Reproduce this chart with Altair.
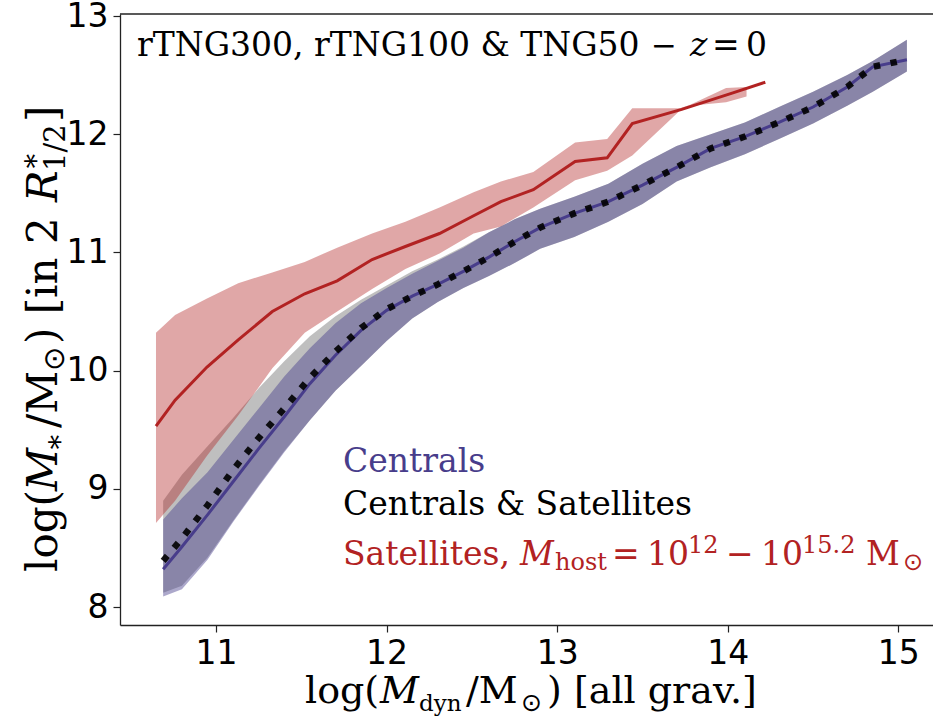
import altair as alt
import pandas as pd

# ---- Centrals and all galaxies (shared mass bins) ----
mdyn_c = [10.69, 10.8, 10.95, 11.1, 11.25, 11.4, 11.55, 11.7, 11.85, 12.0,
          12.15, 12.3, 12.45, 12.6, 12.75, 12.9, 13.1, 13.3, 13.5, 13.7,
          13.9, 14.1, 14.3, 14.5, 14.7, 14.85, 15.05]
cen_med = [8.32, 8.51, 8.78, 9.06, 9.34, 9.61, 9.89, 10.13, 10.34, 10.51,
           10.63, 10.73, 10.84, 10.96, 11.09, 11.21, 11.33, 11.43, 11.57, 11.72,
           11.88, 11.98, 12.10, 12.23, 12.40, 12.57, 12.63]
cen_lo = [8.09, 8.15, 8.40, 8.72, 9.02, 9.31, 9.58, 9.83, 10.04, 10.25,
          10.44, 10.58, 10.70, 10.80, 10.91, 11.03, 11.13, 11.26, 11.41, 11.60,
          11.72, 11.83, 11.96, 12.09, 12.24, 12.36, 12.53]
cen_hi = [8.74, 8.92, 9.14, 9.41, 9.68, 9.95, 10.19, 10.40, 10.57, 10.70,
          10.82, 10.93, 11.04, 11.17, 11.28, 11.37, 11.47, 11.58, 11.75, 11.90,
          12.00, 12.10, 12.23, 12.36, 12.50, 12.62, 12.80]
all_med = [8.39, 8.58, 8.86, 9.16, 9.43, 9.68, 9.94, 10.16, 10.36, 10.52,
           10.63, 10.73, 10.84, 10.96, 11.09, 11.21, 11.33, 11.43, 11.57, 11.72,
           11.88, 11.98, 12.10, 12.23, 12.40, 12.57, 12.63]
all_lo = [8.12, 8.18, 8.42, 8.73, 9.03, 9.32, 9.58, 9.83, 10.04, 10.25,
          10.44, 10.58, 10.70, 10.80, 10.91, 11.03, 11.13, 11.26, 11.41, 11.60,
          11.72, 11.83, 11.96, 12.09, 12.24, 12.36, 12.53]
all_hi = [8.90, 9.12, 9.36, 9.60, 9.85, 10.08, 10.29, 10.46, 10.60, 10.72,
          10.84, 10.94, 11.05, 11.17, 11.28, 11.37, 11.47, 11.58, 11.75, 11.90,
          12.00, 12.10, 12.23, 12.36, 12.50, 12.62, 12.80]

# ---- Satellites ----
sat_x = [10.648, 10.76, 10.947, 11.13, 11.33, 11.52, 11.71, 11.915, 12.11, 12.31,
         12.51, 12.67, 12.86, 13.105, 13.293, 13.44, 13.73, 14.03, 14.22]
sat_med = [9.53, 9.75, 10.03, 10.26, 10.50, 10.65, 10.76, 10.94, 11.05, 11.16,
           11.31, 11.43, 11.53, 11.77, 11.80, 12.09, 12.21, 12.35, 12.44]
sat_band_x = [10.648, 10.76, 10.947, 11.13, 11.33, 11.52, 11.71, 11.915, 12.11, 12.31,
              12.51, 12.67, 12.86, 13.105, 13.293, 13.44, 13.72, 13.78, 13.99, 14.11]
sat_lo = [8.71, 8.90, 9.28, 9.62, 10.02, 10.32, 10.50, 10.69, 10.86, 10.99,
          11.16, 11.22, 11.38, 11.61, 11.69, 11.82, 12.20, 12.24, 12.27, 12.32]
sat_hi = [10.32, 10.47, 10.61, 10.74, 10.83, 10.92, 11.04, 11.16, 11.26, 11.38,
          11.51, 11.60, 11.68, 11.93, 11.96, 12.22, 12.22, 12.25, 12.39, 12.40]

x_ticks = [11, 12, 13, 14, 15]
y_ticks = [8, 9, 10, 11, 12, 13]

SERIF = "DejaVu Serif"
SANS = "DejaVu Sans"
PURPLE = "#483D8B"
RED = "#B22222"

W, H = 813, 611
LEFT, TOP = 120, 14

cen = pd.DataFrame({"x": mdyn_c, "med": cen_med, "lo": cen_lo, "hi": cen_hi,
                    "amed": all_med, "alo": all_lo, "ahi": all_hi})
sat_line = pd.DataFrame({"x": sat_x, "med": sat_med})
sat_band = pd.DataFrame({"x": sat_band_x, "lo": sat_lo, "hi": sat_hi})

xs = alt.Scale(domain=[10.437, 15.203], nice=False, zero=False)
ys = alt.Scale(domain=[7.848, 13.017], nice=False, zero=False)

x_axis = alt.Axis(values=x_ticks, title=None, grid=False, format="d",
                  labelFont=SANS, labelFontSize=33, labelColor="black",
                  labelPadding=5, tickSize=7, tickWidth=1.2, tickColor="#222",
                  domainColor="#222", domainWidth=1.3)
y_axis = alt.Axis(values=y_ticks, title=None, grid=False, format="d",
                  labelFont=SANS, labelFontSize=33, labelColor="black",
                  labelPadding=5, tickSize=7, tickWidth=1.2, tickColor="#222",
                  domainColor="#222", domainWidth=1.3)

X = alt.X("x:Q", scale=xs, axis=x_axis)

gray_band = alt.Chart(cen).mark_area(color="gray", opacity=0.5).encode(
    x=X, y=alt.Y("alo:Q", scale=ys, axis=y_axis), y2="ahi:Q")
blue_band = alt.Chart(cen).mark_area(color=PURPLE, opacity=0.45).encode(
    x=X, y=alt.Y("lo:Q", scale=ys), y2="hi:Q")
red_band = alt.Chart(sat_band).mark_area(color=RED, opacity=0.4).encode(
    x=X, y=alt.Y("lo:Q", scale=ys), y2="hi:Q")
blue_line = alt.Chart(cen).mark_line(color=PURPLE, strokeWidth=3).encode(
    x=X, y=alt.Y("med:Q", scale=ys))
black_line = alt.Chart(cen).mark_line(color="black", opacity=0.9, strokeWidth=6.5,
                                      strokeDash=[6.5, 10.5], strokeCap="butt").encode(
    x=X, y=alt.Y("amed:Q", scale=ys))
red_line = alt.Chart(sat_line).mark_line(color=RED, strokeWidth=3).encode(
    x=X, y=alt.Y("med:Q", scale=ys))

one = pd.DataFrame({"k": [0]})

top_frame = alt.Chart(one).mark_rule(color="#222", strokeWidth=1.3).encode(
    x=alt.value(0), x2=alt.value(W), y=alt.value(0))


def label(s, x, y, size=33, color="black", italic=False, angle=0, font=SERIF):
    kw = dict(text=s, font=font, fontSize=size, color=color,
              align="left", baseline="alphabetic")
    if italic:
        kw["fontStyle"] = "italic"
    if angle:
        kw["angle"] = angle
    return alt.Chart(one).mark_text(**kw).encode(
        x=alt.value(x - LEFT), y=alt.value(y - TOP))


SUB = 24
YT = 42      # y-title font size
YS = 29      # y-title sub/superscript size
texts = [
    # header
    label("rTNG300, rTNG100 & TNG50", 137, 56, size=33),
    label("\u2212", 651, 56, size=31),
    label("z", 690, 56, size=33, italic=True),
    label("=", 712, 56, size=33),
    label("0", 746, 56, size=33),
    # legend entries
    label("Centrals", 343, 472, color=PURPLE),
    label("Centrals & Satellites", 343, 515),
    label("Satellites,", 343, 565, color=RED),
    label("M", 520, 565, color=RED, italic=True),
    label("host", 555, 570, size=SUB, color=RED),
    label("=", 612, 565, color=RED),
    label("10", 647, 565, color=RED),
    label("12", 688, 553, size=SUB, color=RED),
    label("\u2212", 726, 565, color=RED),
    label("10", 761, 565, color=RED),
    label("15.2", 802, 553, size=SUB, color=RED),
    label("M", 866, 565, color=RED),
    label("\u2299", 903, 570, size=SUB, color=RED, font=SANS),
    # x-axis title
    label("log(", 305, 703, size=38),
    label("M", 380, 703, size=38, italic=True),
    label("dyn", 419, 711, size=23),
    label("/M", 466, 703, size=38),
    label("\u2299", 521, 711, size=25, font=SANS),
    label(") [all grav.]", 547, 703, size=38),
    # y-axis title (rotated, reading upwards)
    label("log(", 57, 572, size=YT, angle=270),
    label("M", 57, 491, size=YT, italic=True, angle=270),
    label("\u2217", 64, 452, size=YS, angle=270),
    label("/M", 57, 428, size=YT, angle=270),
    label("\u2299", 64, 371, size=YS, angle=270, font=SANS),
    label(") [in 2 ", 57, 344, size=YT, angle=270),
    label("R", 57, 202, size=YT, italic=True, angle=270),
    label("\u2217", 40, 171, size=YS, angle=270),
    label("1/2", 65, 171, size=YS, angle=270),
    label("]", 57, 122, size=YT, angle=270),
]

chart = alt.layer(
    gray_band, blue_band, red_band, blue_line, black_line, red_line,
    top_frame, *texts
).properties(
    width=W, height=H,
    autosize=alt.AutoSizeParams(type="none"),
    padding={"left": LEFT, "top": TOP, "right": 0, "bottom": 717 - TOP - H},
    background="white",
).configure_view(stroke=None)

chart.save("out.html", embed_options={"renderer": "svg", "actions": False})
